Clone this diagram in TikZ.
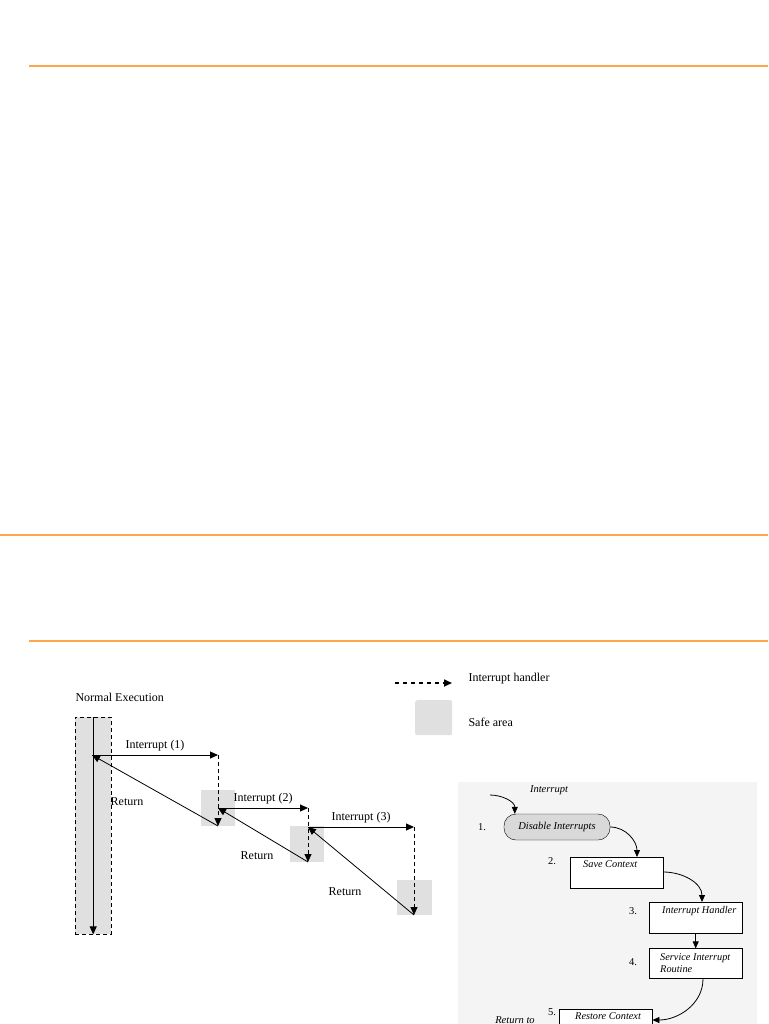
\documentclass[tikz,border=0pt]{standalone}
\usepackage{fontspec}
\setmainfont{Liberation Serif}
\usetikzlibrary{arrows.meta,positioning}
\definecolor{rulecol}{HTML}{FFA64D}
\definecolor{safegray}{HTML}{E0E0E0}
\definecolor{panelgray}{HTML}{F4F4F4}
\definecolor{pillgray}{HTML}{D9D9D9}

\begin{document}
\begin{tikzpicture}[
    x=1pt, y=-1pt,
    font=\fontsize{12}{14}\selectfont,
    >={Triangle[length=8pt,width=7pt]},
    safe/.style={fill=safegray, inner sep=0pt, anchor=north west},
    handler/.style={->, dash pattern=on 4pt off 3pt, line width=0.8pt},
    jump/.style={->, line width=1pt},
    back/.style={->, line width=0.8pt},
    flow/.style={-{Triangle[length=7pt,width=6pt]}, line width=0.8pt},
    stepbox/.style={draw, fill=white, align=flush left, anchor=north west, text width=83pt,
        inner xsep=5pt, inner ysep=3pt, font=\fontsize{10.3}{12}\selectfont\itshape},
    num/.style={font=\fontsize{10.5}{12}\selectfont}
]
\useasboundingbox (0,0) rectangle (768,1024);

% page rules
\draw[rulecol, line width=1.2pt] (29,66) -- (768,66);
\draw[rulecol, line width=2pt] (0,535) -- (768,535);
\draw[rulecol, line width=1.2pt] (29,641) -- (768,641);

% legend
\coordinate (lgfrom) at (395,683);
\coordinate (lgto) at (452,683);
\draw[->, dash pattern=on 4pt off 4pt, line width=1.6pt] (lgfrom) -- (lgto);
\node[anchor=west] (lghandler) at (465,679) {Interrupt handler};
\node[safe, rounded corners=2pt, minimum width=37pt, minimum height=35pt] (lgsafe) at (415,700) {};
\node[anchor=west] (lgsafetxt) at (465,722) {Safe area};

% normal execution
\node[anchor=west] (normal) at (72,697) {Normal Execution};
\node[safe, draw, dash pattern=on 4pt off 3pt, minimum width=36pt, minimum height=217pt] (exec) at (75,717) {};
\draw[jump] (exec.north) -- (exec.south);

% safe areas
\node[safe, minimum width=34pt, minimum height=36pt] (safe1) at (201,790) {};
\node[safe, minimum width=34pt, minimum height=36pt] (safe2) at (290,826) {};
\node[safe, minimum width=35pt, minimum height=35pt] (safe3) at (397,880) {};

\coordinate (int1) at (92,755);  \coordinate (hdl1) at (218,755); \coordinate (ret1) at (218,826);
\coordinate (int2) at (218,808); \coordinate (hdl2) at (308,808); \coordinate (ret2) at (308,862);
\coordinate (int3) at (308,827); \coordinate (hdl3) at (414,827); \coordinate (ret3) at (414,915);

\draw[jump] (int1) -- node[above] (irq1) {Interrupt (1)} (hdl1);
\draw[handler] (hdl1) -- (ret1);
\draw[back] (ret1) -- (int1);
\draw[jump] (int2) -- node[above] (irq2) {Interrupt (2)} (hdl2);
\draw[handler] (hdl2) -- (ret2);
\draw[back] (ret2) -- (int2);
\draw[jump] (int3) -- node[above] (irq3) {Interrupt (3)} (hdl3);
\draw[handler] (hdl3) -- (ret3);
\draw[back] (ret3) -- (int3);

\node (back1) at (127,802) {Return};
\node (back2) at (257,856) {Return};
\node (back3) at (345,892) {Return};

% interrupt sequence panel
\fill[panelgray] (458,782) rectangle (757,1024);
\node[font=\fontsize{10.5}{12}\selectfont\itshape] (irq) at (549,790) {Interrupt};
\coordinate (irqin) at (490,795);
\node[draw, fill=pillgray, rounded corners=12pt, minimum width=106pt, minimum height=26pt,
    font=\fontsize{10.5}{12}\selectfont\itshape] (dis) at (557,827) {Disable Interrupts};
\node[stepbox, text height=7pt, text depth=18pt] (save) at (570,857) {\hspace*{8pt}Save Context};
\node[stepbox, text height=8pt, text depth=17pt] (hand) at (649,902) {\hspace*{8pt}Interrupt Handler};
\node[stepbox, minimum height=30pt, below=15pt of hand] (serv) {\hspace*{6pt}Service Interrupt\\\hspace*{6pt}Routine};
\node[stepbox, minimum height=31pt, text height=7pt, text depth=18pt] (rest) at (559,1009) {\hspace*{11pt}Restore Context};

\node[num] (n1) at (482,827) {1.};
\node[num] (n2) at (552,861) {2.};
\node[num] (n3) at (633,911) {3.};
\node[num] (n4) at (633,962) {4.};
\node[num] (n5) at (552,1012) {5.};
\node[font=\fontsize{10.5}{12}\selectfont\itshape] (retto) at (515,1020) {Return to};

\draw[flow] (irqin) to[out=0, in=90] ([xshift=11pt]dis.north west);
\draw[flow] (dis.east) to[out=0, in=90] ([xshift=67pt]save.north west);
\draw[flow] ([yshift=-15pt]save.north east) to[out=0, in=90] ([xshift=53pt]hand.north west);
\draw[flow] (hand.south) -- (serv.north);
\draw[flow] ([xshift=54pt]serv.south west) to[out=-90, in=0] ([yshift=-11pt]rest.north east);
\end{tikzpicture}
\end{document}
